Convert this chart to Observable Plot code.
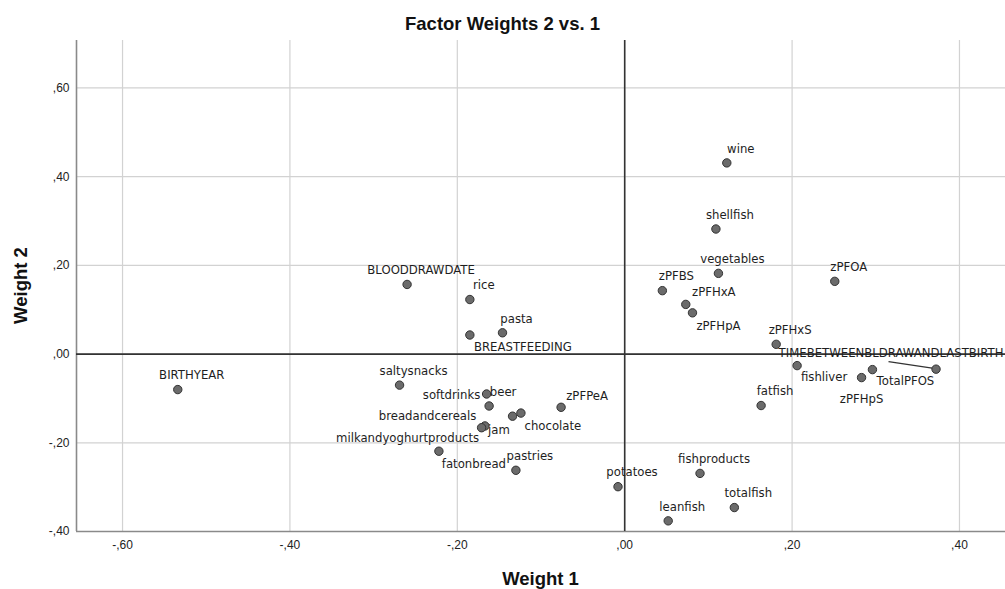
<!DOCTYPE html>
<html>
<head>
<meta charset="utf-8">
<script src="https://cdn.jsdelivr.net/npm/d3@7"></script>
<script src="https://cdn.jsdelivr.net/npm/@observablehq/plot@0.6"></script>
<style>
  html, body { margin: 0; padding: 0; background: #fff; overflow: hidden; }
  #chart svg { display: block; }
</style>
</head>
<body>
<div id="chart"></div>
<script>
// ---- data ----
const names = [
  "BIRTHYEAR", "BLOODDRAWDATE", "rice", "pasta", "BREASTFEEDING",
  "saltysnacks", "softdrinks", "beer", "breadandcereals", "chocolate",
  "jam", "milkandyoghurtproducts", "zPFPeA", "fatonbread", "pastries",
  "potatoes", "leanfish", "fishproducts", "totalfish", "fatfish",
  "wine", "shellfish", "vegetables", "zPFBS", "zPFHxA",
  "zPFHpA", "zPFHxS", "zPFOA", "fishliver", "TotalPFOS",
  "zPFHpS", "TIMEBETWEENBLDRAWANDLASTBIRTH"
];
const weight1 = [
  -0.534, -0.260, -0.185, -0.146, -0.185,
  -0.269, -0.165, -0.162, -0.134, -0.124,
  -0.167, -0.171, -0.076, -0.222, -0.130,
  -0.008, 0.052, 0.090, 0.131, 0.163,
  0.122, 0.109, 0.112, 0.045, 0.073,
  0.081, 0.181, 0.251, 0.206, 0.296,
  0.283, 0.372
];
const weight2 = [
  -0.080, 0.157, 0.123, 0.048, 0.043,
  -0.070, -0.090, -0.117, -0.140, -0.133,
  -0.162, -0.166, -0.120, -0.219, -0.262,
  -0.299, -0.376, -0.269, -0.346, -0.116,
  0.431, 0.282, 0.182, 0.143, 0.112,
  0.093, 0.022, 0.164, -0.026, -0.035,
  -0.053, -0.034
];
const xTicks = [-0.6, -0.4, -0.2, 0, 0.2, 0.4];
const yTicks = [-0.4, -0.2, 0, 0.2, 0.4, 0.6];
const titleText = "Factor Weights 2 vs. 1";
const xLabel = "Weight 1";
const yLabel = "Weight 2";
const leaderNames = ["TIMEBETWEENBLDRAWANDLASTBIRTH"];

// ---- layout / style ----
const W = 1005, H = 589;
const margin = {top: 40, right: 0, bottom: 58, left: 76};
const xDomain = [-0.655, 0.455];
const yDomain = [-0.4, 0.707];
const defaultOffset = [14, -14];
const labelOffsets = {
  "BREASTFEEDING": [53, 12],
  "softdrinks": [-35, 1],
  "breadandcereals": [-85, 0],
  "chocolate": [32, 13],
  "jam": [14, 4],
  "milkandyoghurtproducts": [-74, 11],
  "fatonbread": [35, 13],
  "zPFPeA": [26, -11],
  "zPFHxA": [28, -12],
  "zPFHpA": [26, 13],
  "fishliver": [27, 12],
  "TotalPFOS": [33, 12],
  "zPFHpS": [0, 22],
  "TIMEBETWEENBLDRAWANDLASTBIRTH": [-45, -16]
};
const leaderEnd = [-47, -7];

const rows = names.map((n, i) => ({name: n, w1: weight1[i], w2: weight2[i]}));
const fmt = d => (+d).toFixed(2).replace(/^(-?)0\./, "$1,");

const groups = d3.group(rows, r => (labelOffsets[r.name] || defaultOffset).join(","));
const labelMarks = Array.from(groups, ([key, rs]) => {
  const [dx, dy] = key.split(",").map(Number);
  return Plot.text(rs, {
    x: "w1", y: "w2", text: "name", dx, dy,
    fontSize: 11.7, fontFamily: "DejaVu Sans", fill: "#1e1e1e"
  });
});

const leaderRows = rows.filter(r => leaderNames.includes(r.name));
const leaderMark = (index, scales) => {
  const g = d3.create("svg:g");
  for (const r of leaderRows) {
    const px = scales.x(r.w1), py = scales.y(r.w2);
    g.append("line")
      .attr("x1", px).attr("y1", py)
      .attr("x2", px + leaderEnd[0]).attr("y2", py + leaderEnd[1])
      .attr("stroke", "#333").attr("stroke-width", 1.3);
  }
  return g.node();
};

const svg = Plot.plot({
  width: W,
  height: H,
  marginTop: margin.top,
  marginRight: margin.right,
  marginBottom: margin.bottom,
  marginLeft: margin.left,
  style: {fontFamily: "Liberation Sans, Arial, sans-serif", background: "#fff", color: "#222"},
  x: {domain: xDomain, label: null},
  y: {domain: yDomain, label: null},
  marks: [
    Plot.gridX(xTicks, {stroke: "#d2d2d2", strokeOpacity: 1, strokeWidth: 1.2}),
    Plot.gridY(yTicks, {stroke: "#d2d2d2", strokeOpacity: 1, strokeWidth: 1.2}),
    Plot.ruleX([xDomain[0]], {stroke: "#8a8a8a", strokeWidth: 1.6}),
    Plot.ruleY([yDomain[0]], {stroke: "#8a8a8a", strokeWidth: 1.6}),
    Plot.ruleX([0], {stroke: "#333", strokeWidth: 1.6}),
    Plot.ruleY([0], {stroke: "#333", strokeWidth: 1.6}),
    Plot.axisX(xTicks, {tickSize: 0, tickPadding: 9, tickFormat: fmt, fontSize: 12, label: null, fill: "#222"}),
    Plot.axisY(yTicks, {tickSize: 0, tickPadding: 7, tickFormat: fmt, fontSize: 12, label: null, fill: "#222"}),
    leaderMark,
    Plot.dot(rows, {x: "w1", y: "w2", r: 4.2, fill: "#6b6b6b", stroke: "#333", strokeWidth: 1}),
    ...labelMarks
  ]
});

const s = d3.select(svg);
s.append("text")
  .attr("x", W / 2).attr("y", 30)
  .attr("text-anchor", "middle")
  .attr("font-family", "Liberation Sans, Arial, sans-serif")
  .attr("font-weight", "bold").attr("font-size", 18.5).attr("fill", "#111")
  .text(titleText);
s.append("text")
  .attr("x", margin.left + (W - margin.left - margin.right) / 2).attr("y", 585)
  .attr("text-anchor", "middle")
  .attr("font-family", "Liberation Sans, Arial, sans-serif")
  .attr("font-weight", "bold").attr("font-size", 18.5).attr("fill", "#111")
  .text(xLabel);
s.append("text")
  .attr("transform", `translate(26.5,${margin.top + (H - margin.top - margin.bottom) / 2}) rotate(-90)`)
  .attr("text-anchor", "middle")
  .attr("font-family", "Liberation Sans, Arial, sans-serif")
  .attr("font-weight", "bold").attr("font-size", 18.5).attr("fill", "#111")
  .text(yLabel);

document.getElementById("chart").appendChild(svg);
</script>
</body>
</html>
